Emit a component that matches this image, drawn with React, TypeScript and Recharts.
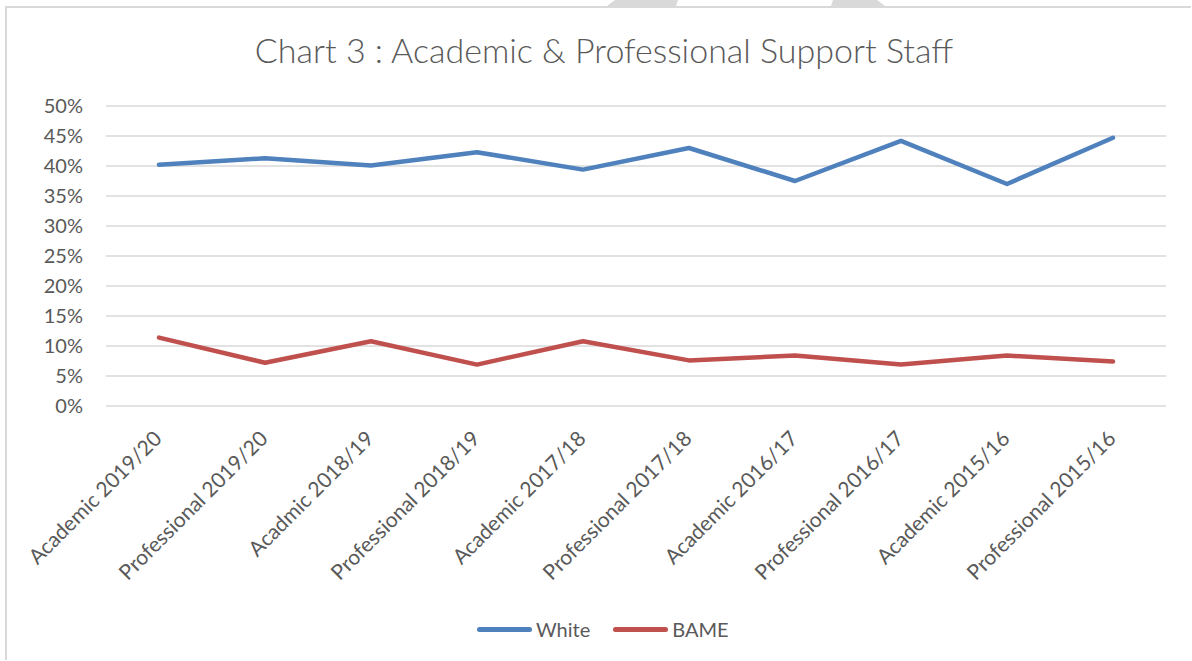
import React from "react";
import { LineChart, Line, XAxis, YAxis, CartesianGrid } from "recharts";

const categories = [
  "Academic 2019/20",
  "Professional 2019/20",
  "Acadmic 2018/19",
  "Professional 2018/19",
  "Academic 2017/18",
  "Professional 2017/18",
  "Academic 2016/17",
  "Professional 2016/17",
  "Academic 2015/16",
  "Professional 2015/16",
];

const whiteValues = [40.2, 41.3, 40.1, 42.3, 39.4, 43.0, 37.5, 44.2, 37.0, 44.7];
const bameValues = [11.4, 7.2, 10.8, 6.9, 10.8, 7.6, 8.4, 6.9, 8.4, 7.4];

const yTicks = [0, 5, 10, 15, 20, 25, 30, 35, 40, 45, 50];

const seriesNames = ["White", "BAME"];
const seriesColors = ["#4f81bd", "#c0504d"];

const FONT = "Lato, 'Open Sans', sans-serif";
const TEXT = "#595959";

const data = categories.map((c, i) => ({
  name: c,
  White: whiteValues[i],
  BAME: bameValues[i],
}));

function XTick(props: any) {
  const { x, y, payload } = props;
  return (
    <g transform={`translate(${x + 4},${y + 32})`}>
      <text
        x={0}
        y={0}
        textAnchor="end"
        transform="rotate(-45)"
        fill={TEXT}
        fontSize={21}
        fontFamily={FONT}
      >
        {payload.value}
      </text>
    </g>
  );
}

export default function App() {
  return (
    <div
      style={{
        position: "absolute",
        left: 0,
        top: 0,
        width: 1192,
        height: 661,
        background: "#fff",
        overflow: "hidden",
      }}
    >
      {/* page artefact above the frame */}
      <svg
        width={1192}
        height={10}
        style={{ position: "absolute", left: 0, top: 0 }}
      >
        <polygon points="615,0 678,0 676,6 607,6" fill="#d9d9d9" />
        <polygon points="833,0 877,0 885,6 831,6" fill="#d9d9d9" />
      </svg>
      <div
        style={{
          position: "absolute",
          left: 5,
          top: 6,
          width: 1184,
          height: 652,
          border: "2px solid #d9d9d9",
          borderBottom: "none",
          borderRight: "none",
        }}
      />
      <div
        style={{
          position: "absolute",
          left: 0,
          width: 1192,
          top: 30,
          textAlign: "center",
          fontFamily: FONT,
          fontSize: 34,
          fontWeight: 300,
          color: TEXT,
          lineHeight: "40px",
          paddingLeft: 8,
        }}
      >
        Chart 3 : Academic &amp; Professional Support Staff
      </div>
      <div style={{ position: "absolute", left: 0, top: 0 }}>
        <LineChart
          width={1192}
          height={661}
          data={data}
          margin={{ top: 106, right: 26, bottom: 0, left: 0 }}
        >
          <CartesianGrid vertical={false} stroke="#d9d9d9" strokeWidth={1.5} />
          <XAxis
            dataKey="name"
            interval={0}
            height={255}
            padding={{ left: 53, right: 53 }}
            axisLine={false}
            tickLine={false}
            tickSize={0}
            tick={<XTick />}
          />
          <YAxis
            width={106}
            domain={[0, 50]}
            ticks={yTicks}
            interval={0}
            axisLine={false}
            tickLine={false}
            tickSize={0}
            tickMargin={23}
            tickFormatter={(v: number) => `${v}%`}
            tick={{ fill: TEXT, fontSize: 20, fontFamily: FONT }}
          />
          {seriesNames.map((s, i) => (
            <Line
              key={s}
              dataKey={s}
              stroke={seriesColors[i]}
              strokeWidth={4.5}
              strokeLinecap="round"
              strokeLinejoin="round"
              dot={false}
              activeDot={false}
              isAnimationActive={false}
            />
          ))}
        </LineChart>
      </div>
      <div
        style={{
          position: "absolute",
          left: 477,
          top: 616,
          display: "flex",
          alignItems: "center",
          fontFamily: FONT,
          fontSize: 20,
          color: TEXT,
          height: 26,
        }}
      >
        {seriesNames.map((s, i) => (
          <div
            key={s}
            style={{ display: "flex", alignItems: "center", marginRight: i === 0 ? 23 : 0 }}
          >
            <span
              style={{
                display: "inline-block",
                width: 55,
                height: 5,
                borderRadius: 3,
                background: seriesColors[i],
                marginRight: 4,
              }}
            />
            <span>{s}</span>
          </div>
        ))}
      </div>
    </div>
  );
}
